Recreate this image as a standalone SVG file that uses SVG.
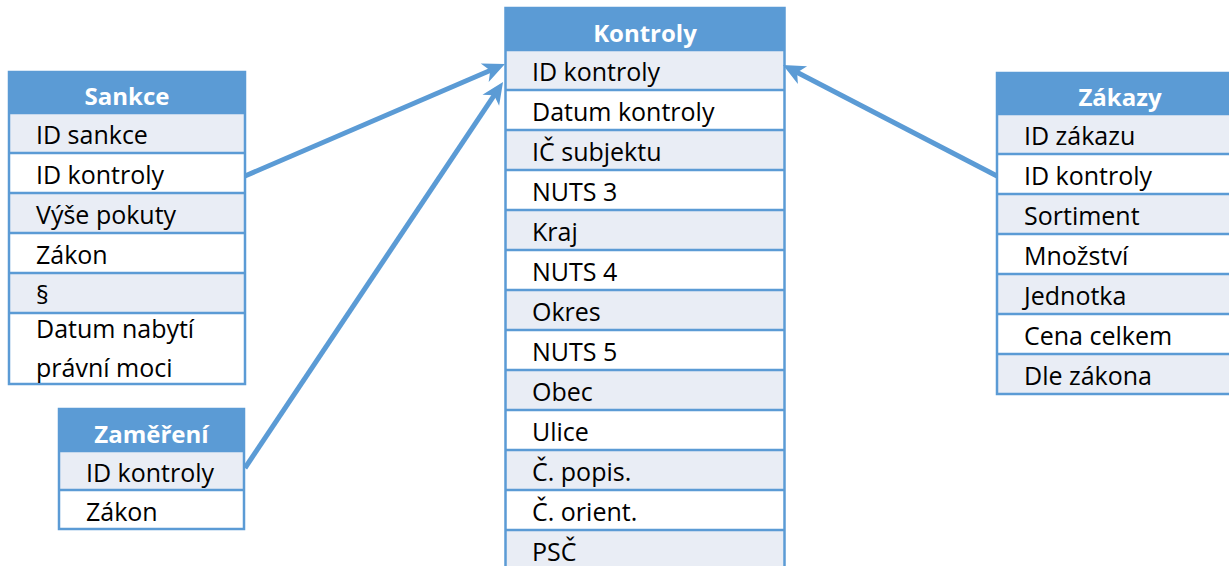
<svg xmlns="http://www.w3.org/2000/svg" width="1229" height="566" viewBox="0 0 1229 566">
<style>
.hdr{fill:#5B9BD5}
.a{fill:#E9EDF5}
.b{fill:#FFFFFF}
.sep{stroke:#5B9BD5;stroke-width:2.5}
.frame{fill:none;stroke:#5B9BD5;stroke-width:2.5}
.t{font-family:"Open Sans","Liberation Sans",sans-serif;font-size:25px;fill:#000}
.h{font-family:"Open Sans","Liberation Sans",sans-serif;font-size:24px;font-weight:bold;fill:#fff;text-anchor:middle}
.con{fill:none;stroke:#5B9BD5;stroke-width:5}
</style>
<defs>
<marker id="arr" viewBox="-10 -11 24 22" refX="0" refY="0" markerWidth="24" markerHeight="22" markerUnits="userSpaceOnUse" orient="auto">
<path d="M13,0 L-9,-10 L-3,0 L-9,10 Z" fill="#5B9BD5"/>
</marker>
</defs>

<g id="sankce">
<rect class="hdr" x="9" y="72" width="236" height="41"/>
<rect class="a" x="9" y="113" width="236" height="40"/>
<rect class="b" x="9" y="153" width="236" height="40"/>
<rect class="a" x="9" y="193" width="236" height="40"/>
<rect class="b" x="9" y="233" width="236" height="40"/>
<rect class="a" x="9" y="273" width="236" height="40"/>
<rect class="b" x="9" y="313" width="236" height="71"/>
<line class="sep" x1="9" y1="113" x2="245" y2="113"/>
<line class="sep" x1="9" y1="153" x2="245" y2="153"/>
<line class="sep" x1="9" y1="193" x2="245" y2="193"/>
<line class="sep" x1="9" y1="233" x2="245" y2="233"/>
<line class="sep" x1="9" y1="273" x2="245" y2="273"/>
<line class="sep" x1="9" y1="313" x2="245" y2="313"/>
<rect class="frame" x="9" y="72" width="236" height="312"/>
<text class="h" x="127" y="105">Sankce</text>
<text class="t" x="36" y="144">ID sankce</text>
<text class="t" x="36" y="184">ID kontroly</text>
<text class="t" x="36" y="224">Výše pokuty</text>
<text class="t" x="36" y="264">Zákon</text>
<text class="t" x="36" y="304">§</text>
<text class="t" x="36" y="338">Datum nabytí</text>
<text class="t" x="36" y="377">právní moci</text>
</g>

<g id="zamereni">
<rect class="hdr" x="59" y="409" width="185" height="42"/>
<rect class="a" x="59" y="451" width="185" height="39"/>
<rect class="b" x="59" y="490" width="185" height="39"/>
<line class="sep" x1="59" y1="451" x2="244" y2="451"/>
<line class="sep" x1="59" y1="490" x2="244" y2="490"/>
<rect class="frame" x="59" y="409" width="185" height="120"/>
<text class="h" x="151.5" y="443">Zaměření</text>
<text class="t" x="86" y="482">ID kontroly</text>
<text class="t" x="86" y="521">Zákon</text>
</g>

<g id="kontroly">
<rect class="hdr" x="505.5" y="8" width="279" height="42"/>
<rect class="a" x="505.5" y="50" width="279" height="40"/>
<rect class="b" x="505.5" y="90" width="279" height="40"/>
<rect class="a" x="505.5" y="130" width="279" height="40"/>
<rect class="b" x="505.5" y="170" width="279" height="40"/>
<rect class="a" x="505.5" y="210" width="279" height="40"/>
<rect class="b" x="505.5" y="250" width="279" height="40"/>
<rect class="a" x="505.5" y="290" width="279" height="40"/>
<rect class="b" x="505.5" y="330" width="279" height="40"/>
<rect class="a" x="505.5" y="370" width="279" height="40"/>
<rect class="b" x="505.5" y="410" width="279" height="40"/>
<rect class="a" x="505.5" y="450" width="279" height="40"/>
<rect class="b" x="505.5" y="490" width="279" height="40"/>
<rect class="a" x="505.5" y="530" width="279" height="40"/>
<line class="sep" x1="505.5" y1="50" x2="784.5" y2="50"/>
<line class="sep" x1="505.5" y1="90" x2="784.5" y2="90"/>
<line class="sep" x1="505.5" y1="130" x2="784.5" y2="130"/>
<line class="sep" x1="505.5" y1="170" x2="784.5" y2="170"/>
<line class="sep" x1="505.5" y1="210" x2="784.5" y2="210"/>
<line class="sep" x1="505.5" y1="250" x2="784.5" y2="250"/>
<line class="sep" x1="505.5" y1="290" x2="784.5" y2="290"/>
<line class="sep" x1="505.5" y1="330" x2="784.5" y2="330"/>
<line class="sep" x1="505.5" y1="370" x2="784.5" y2="370"/>
<line class="sep" x1="505.5" y1="410" x2="784.5" y2="410"/>
<line class="sep" x1="505.5" y1="450" x2="784.5" y2="450"/>
<line class="sep" x1="505.5" y1="490" x2="784.5" y2="490"/>
<line class="sep" x1="505.5" y1="530" x2="784.5" y2="530"/>
<rect class="frame" x="505.5" y="8" width="279" height="564"/>
<text class="h" x="645" y="42">Kontroly</text>
<text class="t" x="532" y="81">ID kontroly</text>
<text class="t" x="532" y="121">Datum kontroly</text>
<text class="t" x="532" y="161">IČ subjektu</text>
<text class="t" x="532" y="201">NUTS 3</text>
<text class="t" x="532" y="241">Kraj</text>
<text class="t" x="532" y="281">NUTS 4</text>
<text class="t" x="532" y="321">Okres</text>
<text class="t" x="532" y="361">NUTS 5</text>
<text class="t" x="532" y="401">Obec</text>
<text class="t" x="532" y="441">Ulice</text>
<text class="t" x="532" y="481">Č. popis.</text>
<text class="t" x="532" y="521">Č. orient.</text>
<text class="t" x="532" y="561">PSČ</text>
</g>

<g id="zakazy">
<rect class="hdr" x="997" y="73" width="246" height="41"/>
<rect class="a" x="997" y="114" width="246" height="40"/>
<rect class="b" x="997" y="154" width="246" height="40"/>
<rect class="a" x="997" y="194" width="246" height="40"/>
<rect class="b" x="997" y="234" width="246" height="40"/>
<rect class="a" x="997" y="274" width="246" height="40"/>
<rect class="b" x="997" y="314" width="246" height="40"/>
<rect class="a" x="997" y="354" width="246" height="40"/>
<line class="sep" x1="997" y1="114" x2="1243" y2="114"/>
<line class="sep" x1="997" y1="154" x2="1243" y2="154"/>
<line class="sep" x1="997" y1="194" x2="1243" y2="194"/>
<line class="sep" x1="997" y1="234" x2="1243" y2="234"/>
<line class="sep" x1="997" y1="274" x2="1243" y2="274"/>
<line class="sep" x1="997" y1="314" x2="1243" y2="314"/>
<line class="sep" x1="997" y1="354" x2="1243" y2="354"/>
<rect class="frame" x="997" y="73" width="246" height="321"/>
<text class="h" x="1120" y="106">Zákazy</text>
<text class="t" x="1024" y="145">ID zákazu</text>
<text class="t" x="1024" y="185">ID kontroly</text>
<text class="t" x="1024" y="225">Sortiment</text>
<text class="t" x="1024" y="265">Množství</text>
<text class="t" x="1024" y="305">Jednotka</text>
<text class="t" x="1024" y="345">Cena celkem</text>
<text class="t" x="1024" y="385">Dle zákona</text>
</g>

<g id="connectors">
<path class="con" d="M245,176 L493,69.2" marker-end="url(#arr)"/>
<path class="con" d="M245,468 L495.8,92.8" marker-end="url(#arr)"/>
<path class="con" d="M997,176 L794.5,71" marker-end="url(#arr)"/>
</g>
</svg>
